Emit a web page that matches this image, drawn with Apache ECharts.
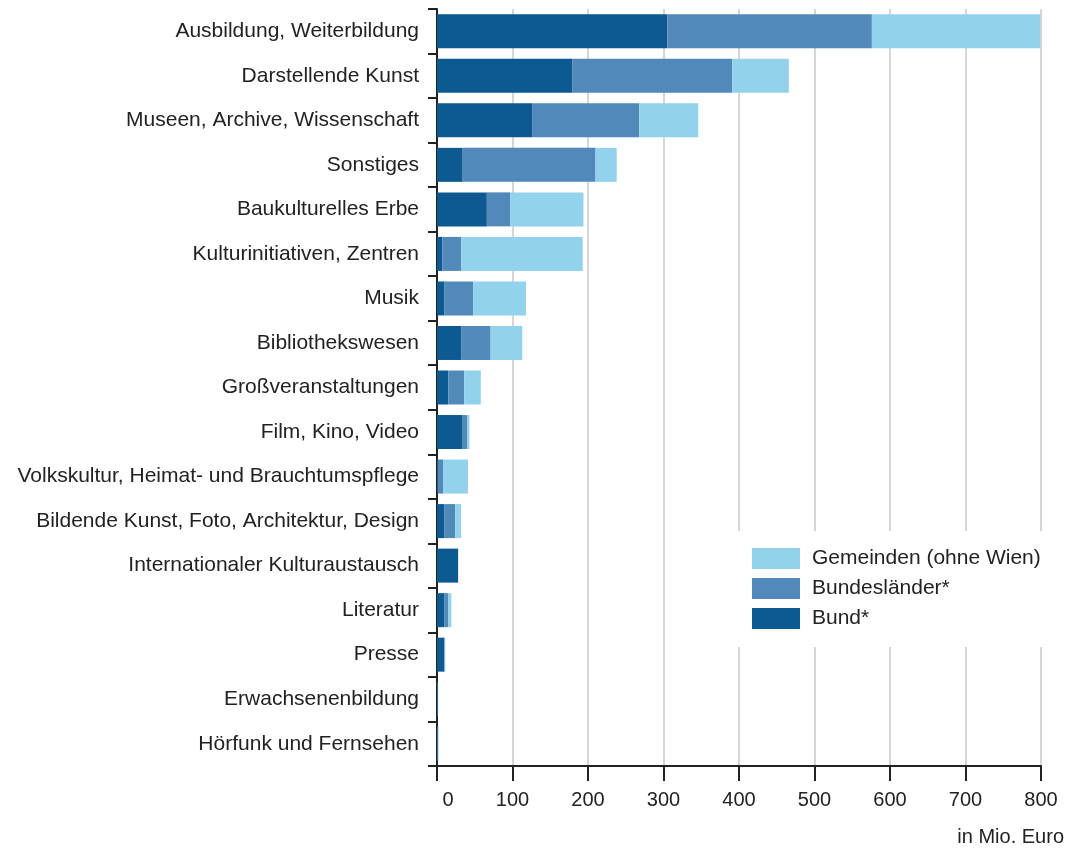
<!DOCTYPE html>
<html><head><meta charset="utf-8">
<script src="https://cdn.jsdelivr.net/npm/echarts@6/dist/echarts.min.js"></script>
<style>html,body{margin:0;padding:0;background:#fff}#c{width:1067px;height:850px}</style>
</head><body><div id="c"></div>
<script>
const categories = ["Ausbildung, Weiterbildung","Darstellende Kunst","Museen, Archive, Wissenschaft","Sonstiges","Baukulturelles Erbe","Kulturinitiativen, Zentren","Musik","Bibliothekswesen","Großveranstaltungen","Film, Kino, Video","Volkskultur, Heimat- und Brauchtumspflege","Bildende Kunst, Foto, Architektur, Design","Internationaler Kulturaustausch","Literatur","Presse","Erwachsenenbildung","Hörfunk und Fernsehen"];
const bund        = [305,179,126,34,66,7,10,32,15,34,1,10,28,10,10,0.8,0.3];
const laender     = [271,212,142,176,31,25,38,39,21,6,7,14,0,5,0,0.4,1.2];
const gemeinden   = [223,75,78,28,97,161,70,42,22,3,33,8,0,4,1,0.4,0.6];
const xTicks = [0,100,200,300,400,500,600,700,800];
const seriesNames = ["Bund*","Bundesländer*","Gemeinden (ohne Wien)"];
const colors = ["#0d5a92","#5289bb","#93d2ed"];

const chart = echarts.init(document.getElementById('c'));
const font = '"Liberation Sans", Arial, sans-serif';
const mk = (name, data, color) => ({
  name, type:'bar', stack:'t', data, barWidth:34,
  itemStyle:{color}, emphasis:{disabled:true}
});
chart.setOption({
  animation:false,
  textStyle:{fontFamily:font},
  grid:{left:437, right:26, top:9, bottom:84, containLabel:false},
  legend:{
    orient:'vertical', left:735, top:531,
    data:[seriesNames[2],seriesNames[1],seriesNames[0]],
    itemWidth:48, itemHeight:21, itemGap:9,
    icon:'rect',
    backgroundColor:'#fff', padding:[17,22,18,17],
    textStyle:{fontSize:21, color:'#222', fontFamily:font, padding:[0,0,0,7]}
  },
  xAxis:{
    type:'value', min:0, max:800, interval:100,
    axisLine:{show:true, lineStyle:{color:'#222', width:2}},
    axisTick:{show:true, length:15, lineStyle:{color:'#222', width:2}},
    axisLabel:{fontSize:20, color:'#222', margin:24, fontFamily:font,
      formatter:v=> v===0 ? '{z|0}' : (xTicks.includes(v)?String(v):''),
      rich:{z:{fontSize:20, color:'#222', fontFamily:font, padding:[0,0,0,22]}}},
    splitLine:{show:true, lineStyle:{color:'#d6d6d6', width:2}}
  },
  yAxis:{
    type:'category', inverse:true, data:categories,
    axisLine:{show:true, lineStyle:{color:'#222', width:2}},
    axisTick:{show:true, length:9, lineStyle:{color:'#222', width:2}},
    axisLabel:{fontSize:21, color:'#222', margin:18, fontFamily:font}
  },
  graphic:[{type:'text', right:3, top:827,
    style:{text:'in Mio. Euro', font:'20px '+font, fill:'#222'}}],
  series:[mk(seriesNames[0],bund,colors[0]), mk(seriesNames[1],laender,colors[1]), mk(seriesNames[2],gemeinden,colors[2])]
});
</script></body></html>
